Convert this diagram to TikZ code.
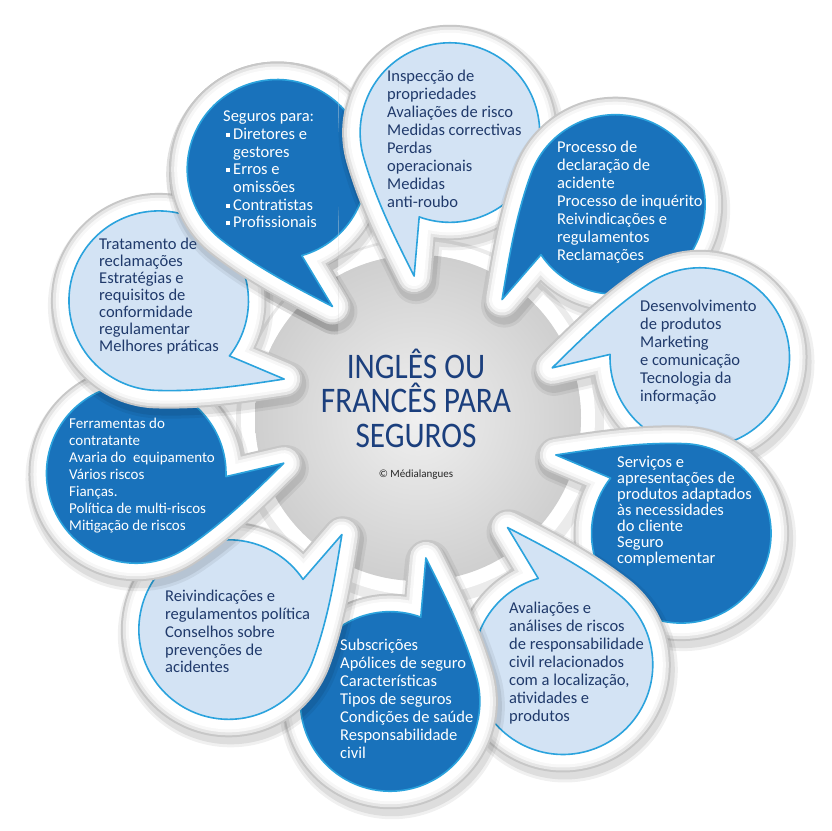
\documentclass[tikz,border=0pt]{standalone}
\usepackage{fontspec}
\setmainfont{Carlito}
\newfontfamily\titlefont[FakeStretch=0.87]{Carlito}
\definecolor{dkblue}{HTML}{1972BB}
\definecolor{ltblue}{HTML}{D3E3F4}
\definecolor{edgeblue}{HTML}{2BA3DD}
\definecolor{navy}{HTML}{203A6B}
\definecolor{titlec}{HTML}{1B3F7D}
\definecolor{discin}{HTML}{F0F0F0}
\definecolor{discout}{HTML}{CFCFCF}
\newcommand\fl{\rule{0pt}{14pt}}
\newcommand\bul{\hspace*{3pt}\rule[2.5pt]{4pt}{4pt}\hspace*{3pt}}
\newcommand\ind{\hspace*{10pt}}
\tikzset{
  shadowA/.style={draw=black, opacity=0.06, line width=46pt, line join=round},
  shadowB/.style={draw=black, opacity=0.08, line width=40pt, line join=round},
  rimA/.style={draw=black!22, line width=36pt, line join=round},
  rimB/.style={draw=black!10, line width=32pt, line join=round},
  rimC/.style={draw=black!3, line width=26pt, line join=round},
  rimD/.style={draw=white, line width=20pt, line join=round},
  dkbody/.style={fill=dkblue, draw=edgeblue, line width=1.6pt, line join=round},
  ltbody/.style={fill=ltblue, draw=edgeblue, line width=1.6pt, line join=round},
  txt/.style={anchor=north west, inner sep=0pt, align=left},
  dtxt/.style={txt, text=white},
  ltxt/.style={txt, text=navy},
}
\newcommand\drawbubble[3]{%
  \begin{scope}[shift={(#1)}]
    \begin{scope}[shift={(2,5)}, rotate=#2, scale=1.02]
      \draw[shadowA] (-9.2,87.5) arc[start angle=96, end angle=-210, radius=88] .. controls (-53.7,83) and (-26,114.6) .. (0,145) -- cycle;
      \draw[shadowB] (-9.2,87.5) arc[start angle=96, end angle=-210, radius=88] .. controls (-53.7,83) and (-26,114.6) .. (0,145) -- cycle;
    \end{scope}
    \begin{scope}[rotate=#2, scale=1.02]
      \draw[rimA] (-9.2,87.5) arc[start angle=96, end angle=-210, radius=88] .. controls (-53.7,83) and (-26,114.6) .. (0,145) -- cycle;
      \draw[rimB] (-9.2,87.5) arc[start angle=96, end angle=-210, radius=88] .. controls (-53.7,83) and (-26,114.6) .. (0,145) -- cycle;
      \draw[rimC] (-9.2,87.5) arc[start angle=96, end angle=-210, radius=88] .. controls (-53.7,83) and (-26,114.6) .. (0,145) -- cycle;
      \draw[rimD] (-9.2,87.5) arc[start angle=96, end angle=-210, radius=88] .. controls (-53.7,83) and (-26,114.6) .. (0,145) -- cycle;
      \draw[#3] (-9.2,87.5) arc[start angle=96, end angle=-210, radius=88] .. controls (-53.7,83) and (-26,114.6) .. (0,145) -- cycle;
    \end{scope}
  \end{scope}}
\begin{document}
\begin{tikzpicture}[x=1pt, y=-1pt]
\useasboundingbox (0,0) rectangle (831,831);
\fill[white] (0,0) rectangle (831,831);
% central disc
\draw[black, opacity=0.08, line width=24pt] (420,422) circle (172);
\draw[white, line width=14pt] (418,418) circle (170);
\shade[inner color=discin, outer color=discout] (418,418) circle (163);
% bubbles
\foreach \k/\sty/\dx/\dy in {0/dkbody/0/0,1/ltbody/0/0,2/dkbody/4/0,3/ltbody/0/0,4/dkbody/0/0,5/ltbody/0/0,6/dkbody/0/0,7/ltbody/0/0,8/dkbody/-4/-3,9/ltbody/0/0}{
  \pgfmathsetmacro\cx{420+286*cos(120-36*\k)+\dx}
  \pgfmathsetmacro\cy{417-286*sin(120-36*\k)+\dy}
  \pgfmathsetmacro\al{22-36*\k}
  \drawbubble{\cx,\cy}{\al}{\sty}
}
% first bubble again, over the last one
\begin{scope}
  \clip (0,0) rectangle (338,400);
  \pgfmathsetmacro\cx{420+286*cos(120)}
  \pgfmathsetmacro\cy{417-286*sin(120)}
  \drawbubble{\cx,\cy}{22}{dkbody}
\end{scope}
% texts
\node[dtxt, font=\fontsize{16.5}{17.7}\selectfont] (t1) at (223,107.5) {\fl Seguros para:\\\bul Diretores e\\\ind gestores\\\bul Erros e\\\ind omissões\\\bul Contratistas\\\bul Profissionais};
\node[ltxt, font=\fontsize{16.5}{18}\selectfont] (t2) at (387,67.5) {\fl Inspecção de\\propriedades\\Avaliações de risco\\Medidas correctivas\\Perdas\\operacionais\\Medidas\\anti-roubo};
\node[dtxt, font=\fontsize{16.5}{18}\selectfont] (t3) at (557,138.5) {\fl Processo de\\declaração de\\acidente\\Processo de inquérito\\Reivindicações e\\regulamentos\\Reclamações};
\node[ltxt, font=\fontsize{16.5}{18}\selectfont] (t4) at (640,297.5) {\fl Desenvolvimento\\de produtos\\Marketing\\e comunicação\\Tecnologia da\\informação};
\node[dtxt, font=\fontsize{16.5}{16}\selectfont] (t5) at (617,453.5) {\fl Serviços e\\apresentações de\\produtos adaptados\\às necessidades\\do cliente\\Seguro\\complementar};
\node[ltxt, font=\fontsize{16.5}{18}\selectfont] (t6) at (509,599.5) {\fl Avaliações e\\análises de riscos\\de responsabilidade\\civil relacionados\\com a localização,\\atividades e\\produtos};
\node[dtxt, font=\fontsize{16.5}{18}\selectfont] (t7) at (340,636.5) {\fl Subscrições\\Apólices de seguro\\Características\\Tipos de seguros\\Condições de saúde\\Responsabilidade\\civil};
\node[ltxt, font=\fontsize{16.5}{17.8}\selectfont] (t8) at (165,587.5) {\fl Reivindicações e\\regulamentos política\\Conselhos sobre\\prevenções de\\acidentes};
\node[dtxt, font=\fontsize{15}{17}\selectfont] (t9) at (69,414) {\fl Ferramentas do\\contratante\\Avaria do\ \ equipamento\\Vários riscos\\Fianças.\\Política de multi-riscos\\Mitigação de riscos};
\node[ltxt, font=\fontsize{16.5}{17}\selectfont] (t10) at (99,235.5) {\fl Tratamento de\\reclamações\\Estratégias e\\requisitos de\\conformidade\\regulamentar\\Melhores práticas};
% title
\node[align=center, anchor=north, inner sep=0pt, text=titlec, font=\titlefont\fontsize{36}{34.5}\selectfont] (title) at (416,345) {\rule{0pt}{33pt}INGLÊS OU\\FRANCÊS PARA\\SEGUROS};
\node[inner sep=0pt, text=black!85, font=\fontsize{11}{13}\selectfont] (copy) at (416,475) {© Médialangues};
\end{tikzpicture}
\end{document}
